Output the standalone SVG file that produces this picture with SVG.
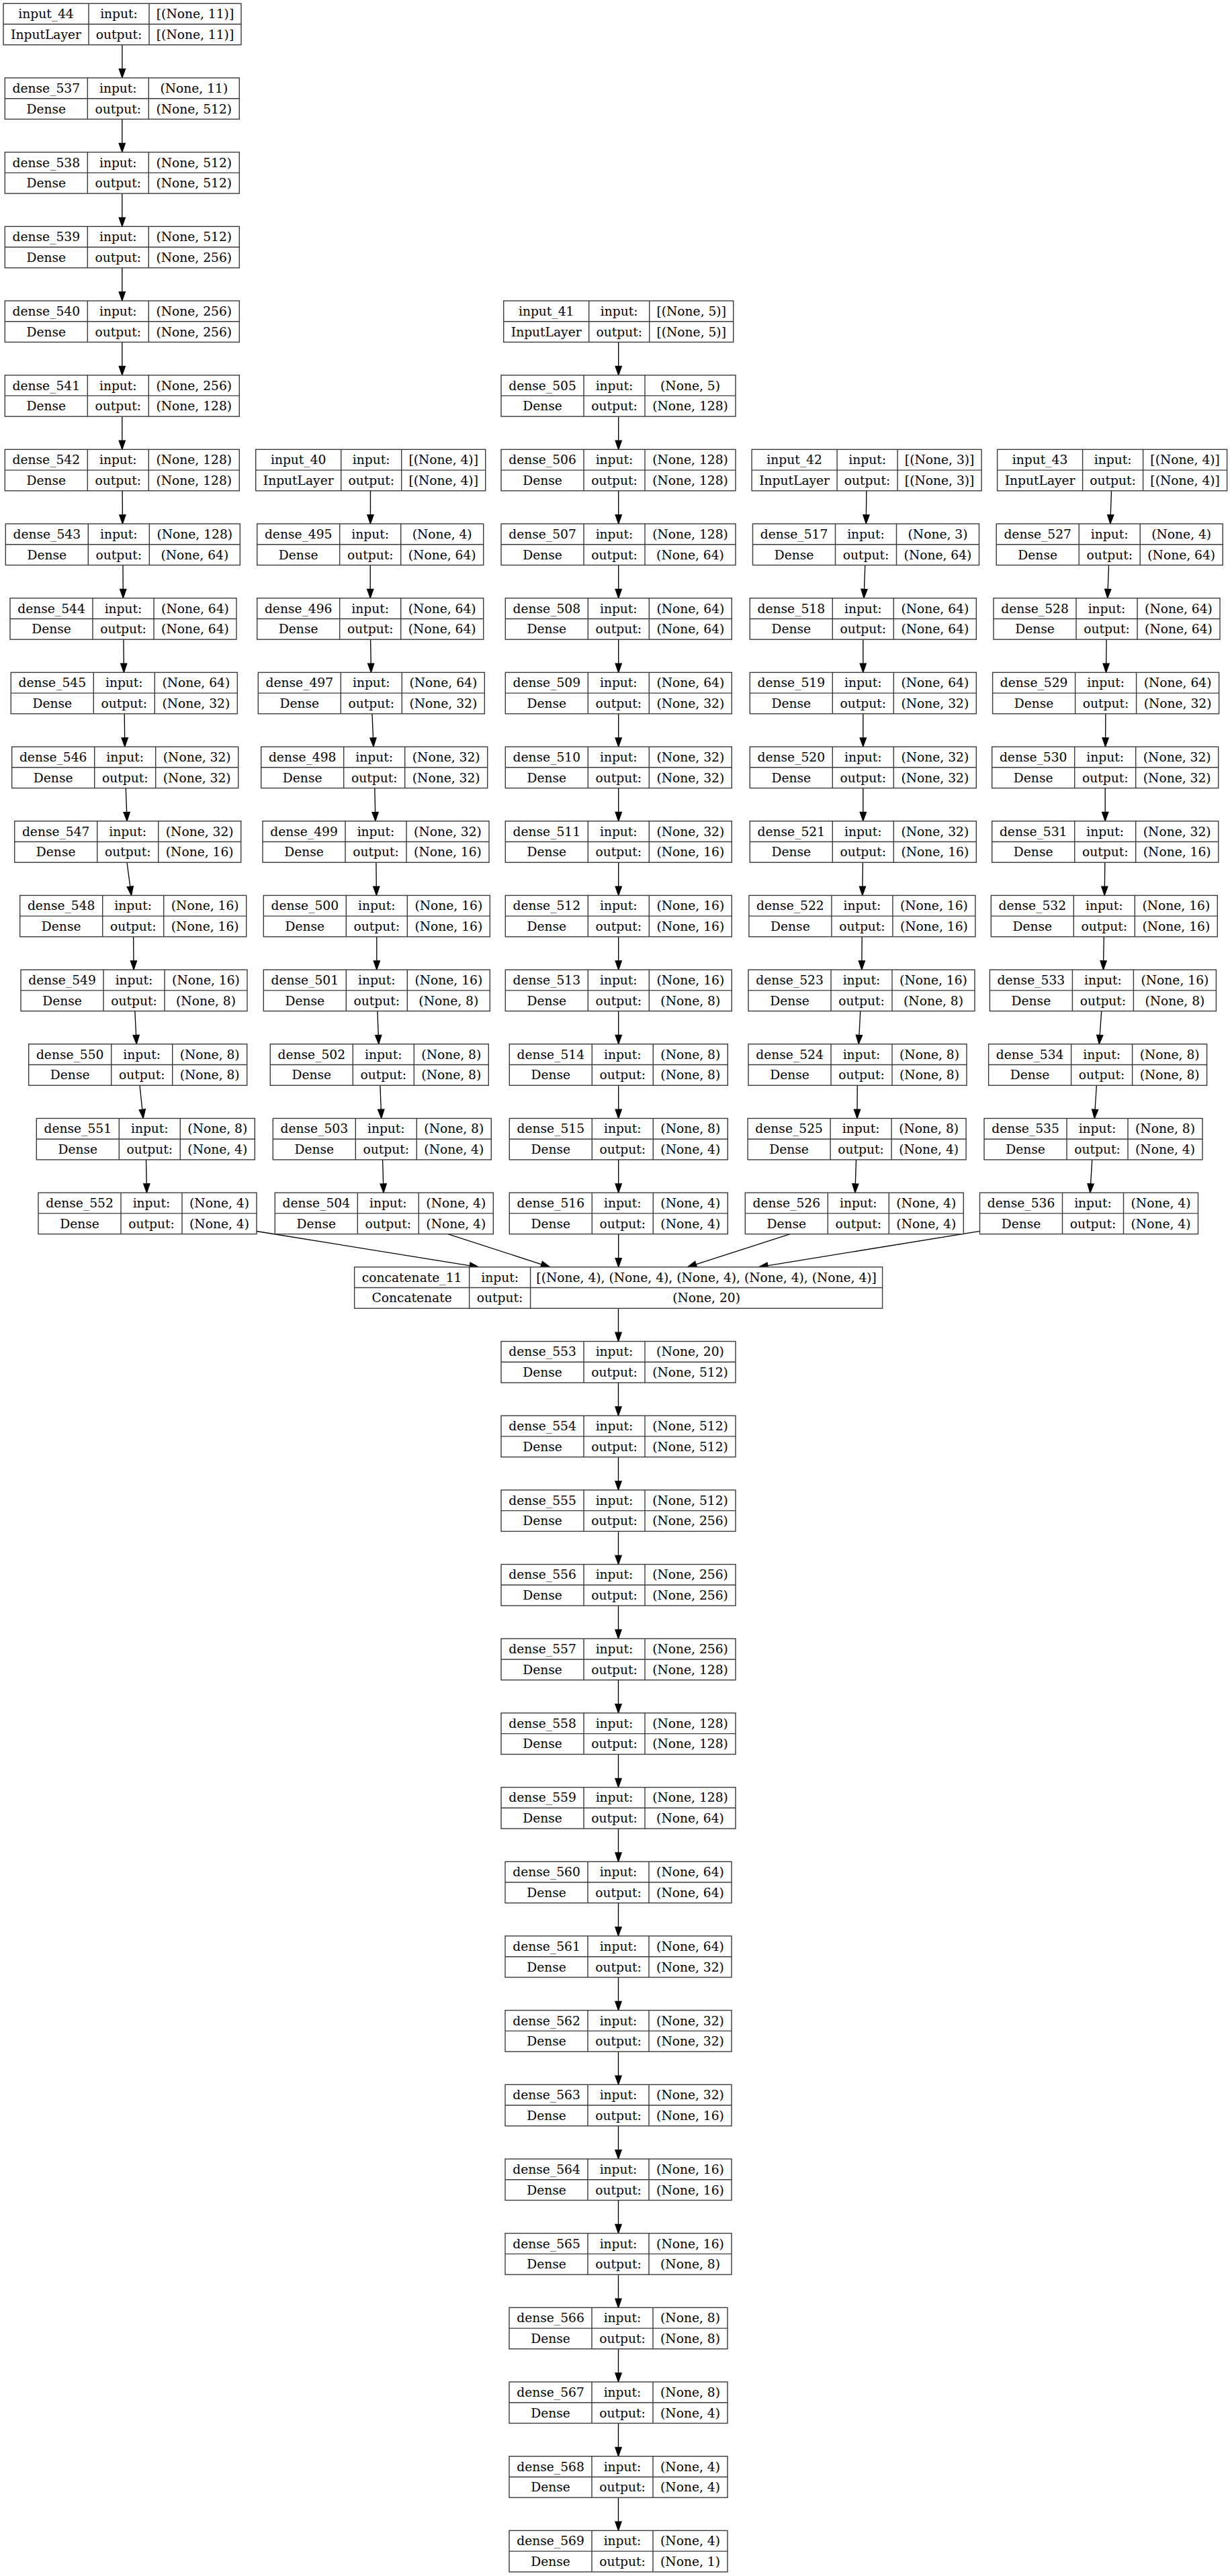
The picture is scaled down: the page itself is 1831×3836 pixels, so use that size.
<svg xmlns="http://www.w3.org/2000/svg" width="1831" height="3836" viewBox="0 0 1831 3836">
<defs>
<style>
.n rect{fill:#fff;stroke:#3a3a3a;stroke-width:1.4}
.n path{fill:none;stroke:#3a3a3a;stroke-width:1.4}
.n text{font-family:"DejaVu Serif","Liberation Serif",serif;font-size:18.67px;text-anchor:middle;fill:#000}
.e line{stroke:#000;stroke-width:1.33;fill:none}
</style>
<marker id="ah" markerWidth="16" markerHeight="12" refX="13.3" refY="4.67" orient="auto" markerUnits="userSpaceOnUse" overflow="visible">
<path d="M0,0 L13.3,4.67 L0,9.33 z" fill="#000" stroke="#000" stroke-width="1.2"/>
</marker>
</defs>
<rect width="1831" height="3836" fill="#fff"/>
<g id="connectors" class="e" marker-end="url(#ah)">
<line x1="181.9" y1="66.75" x2="181.9" y2="115.93" marker-end="url(#ah)"/>
<line x1="181.8" y1="177.43" x2="181.8" y2="226.61" marker-end="url(#ah)"/>
<line x1="181.8" y1="288.11" x2="181.8" y2="337.29" marker-end="url(#ah)"/>
<line x1="181.8" y1="398.79" x2="181.8" y2="447.97" marker-end="url(#ah)"/>
<line x1="181.8" y1="509.47" x2="181.8" y2="558.65" marker-end="url(#ah)"/>
<line x1="181.8" y1="620.15" x2="181.8" y2="669.33" marker-end="url(#ah)"/>
<line x1="182.1" y1="730.83" x2="182.5" y2="780.01" marker-end="url(#ah)"/>
<line x1="183.0" y1="841.51" x2="183.3" y2="890.69" marker-end="url(#ah)"/>
<line x1="183.9" y1="952.19" x2="184.4" y2="1001.37" marker-end="url(#ah)"/>
<line x1="185.2" y1="1062.87" x2="185.8" y2="1112.05" marker-end="url(#ah)"/>
<line x1="187.3" y1="1173.55" x2="189.1" y2="1222.73" marker-end="url(#ah)"/>
<line x1="189.0" y1="1284.23" x2="195.5" y2="1333.41" marker-end="url(#ah)"/>
<line x1="198.6" y1="1394.91" x2="199.1" y2="1444.09" marker-end="url(#ah)"/>
<line x1="200.8" y1="1505.59" x2="203.3" y2="1554.77" marker-end="url(#ah)"/>
<line x1="208.0" y1="1616.27" x2="213.2" y2="1665.45" marker-end="url(#ah)"/>
<line x1="217.5" y1="1726.95" x2="218.5" y2="1776.13" marker-end="url(#ah)"/>
<line x1="551.5" y1="730.83" x2="551.4" y2="780.01" marker-end="url(#ah)"/>
<line x1="551.2" y1="841.51" x2="551.2" y2="890.69" marker-end="url(#ah)"/>
<line x1="551.6" y1="952.19" x2="552.4" y2="1001.37" marker-end="url(#ah)"/>
<line x1="554.0" y1="1062.87" x2="556.0" y2="1112.05" marker-end="url(#ah)"/>
<line x1="557.8" y1="1173.55" x2="558.9" y2="1222.73" marker-end="url(#ah)"/>
<line x1="559.9" y1="1284.23" x2="560.4" y2="1333.41" marker-end="url(#ah)"/>
<line x1="560.8" y1="1394.91" x2="560.8" y2="1444.09" marker-end="url(#ah)"/>
<line x1="561.9" y1="1505.59" x2="563.7" y2="1554.77" marker-end="url(#ah)"/>
<line x1="565.9" y1="1616.27" x2="567.7" y2="1665.45" marker-end="url(#ah)"/>
<line x1="569.6" y1="1726.95" x2="571.0" y2="1776.13" marker-end="url(#ah)"/>
<line x1="920.7" y1="509.47" x2="920.7" y2="558.65" marker-end="url(#ah)"/>
<line x1="920.7" y1="620.15" x2="920.7" y2="669.33" marker-end="url(#ah)"/>
<line x1="920.7" y1="730.83" x2="920.7" y2="780.01" marker-end="url(#ah)"/>
<line x1="920.7" y1="841.51" x2="920.7" y2="890.69" marker-end="url(#ah)"/>
<line x1="920.7" y1="952.19" x2="920.7" y2="1001.37" marker-end="url(#ah)"/>
<line x1="920.7" y1="1062.87" x2="920.7" y2="1112.05" marker-end="url(#ah)"/>
<line x1="920.7" y1="1173.55" x2="920.7" y2="1222.73" marker-end="url(#ah)"/>
<line x1="920.7" y1="1284.23" x2="920.7" y2="1333.41" marker-end="url(#ah)"/>
<line x1="920.7" y1="1394.91" x2="920.7" y2="1444.09" marker-end="url(#ah)"/>
<line x1="920.7" y1="1505.59" x2="920.7" y2="1554.77" marker-end="url(#ah)"/>
<line x1="920.7" y1="1616.27" x2="920.7" y2="1665.45" marker-end="url(#ah)"/>
<line x1="920.7" y1="1726.95" x2="920.7" y2="1776.13" marker-end="url(#ah)"/>
<line x1="1289.8" y1="730.83" x2="1289.3" y2="780.01" marker-end="url(#ah)"/>
<line x1="1287.8" y1="841.51" x2="1286.0" y2="890.69" marker-end="url(#ah)"/>
<line x1="1284.8" y1="952.19" x2="1284.8" y2="1001.37" marker-end="url(#ah)"/>
<line x1="1284.8" y1="1062.87" x2="1284.8" y2="1112.05" marker-end="url(#ah)"/>
<line x1="1284.8" y1="1173.55" x2="1284.8" y2="1222.73" marker-end="url(#ah)"/>
<line x1="1284.4" y1="1284.23" x2="1283.8" y2="1333.41" marker-end="url(#ah)"/>
<line x1="1283.2" y1="1394.91" x2="1282.8" y2="1444.09" marker-end="url(#ah)"/>
<line x1="1280.8" y1="1505.59" x2="1278.2" y2="1554.77" marker-end="url(#ah)"/>
<line x1="1276.3" y1="1616.27" x2="1275.9" y2="1665.45" marker-end="url(#ah)"/>
<line x1="1274.5" y1="1726.95" x2="1272.9" y2="1776.13" marker-end="url(#ah)"/>
<line x1="1654.5" y1="730.83" x2="1652.8" y2="780.01" marker-end="url(#ah)"/>
<line x1="1650.5" y1="841.51" x2="1648.7" y2="890.69" marker-end="url(#ah)"/>
<line x1="1647.1" y1="952.19" x2="1646.5" y2="1001.37" marker-end="url(#ah)"/>
<line x1="1645.9" y1="1062.87" x2="1645.5" y2="1112.05" marker-end="url(#ah)"/>
<line x1="1645.2" y1="1173.55" x2="1645.2" y2="1222.73" marker-end="url(#ah)"/>
<line x1="1644.8" y1="1284.23" x2="1644.2" y2="1333.41" marker-end="url(#ah)"/>
<line x1="1643.3" y1="1394.91" x2="1642.4" y2="1444.09" marker-end="url(#ah)"/>
<line x1="1639.7" y1="1505.59" x2="1636.3" y2="1554.77" marker-end="url(#ah)"/>
<line x1="1632.3" y1="1616.27" x2="1629.3" y2="1665.45" marker-end="url(#ah)"/>
<line x1="1625.7" y1="1726.95" x2="1622.8" y2="1776.13" marker-end="url(#ah)"/>
<line x1="382" y1="1833.5" x2="712.4" y2="1886.81" marker-end="url(#ah)"/>
<line x1="666.7" y1="1837.63" x2="818.6" y2="1886.81" marker-end="url(#ah)"/>
<line x1="920.7" y1="1837.63" x2="920.7" y2="1886.81" marker-end="url(#ah)"/>
<line x1="1176.3" y1="1837.63" x2="1023.5" y2="1886.81" marker-end="url(#ah)"/>
<line x1="1458.5" y1="1833.4" x2="1129.7" y2="1886.81" marker-end="url(#ah)"/>
<line x1="920.5" y1="1948.31" x2="920.5" y2="1997.49" marker-end="url(#ah)"/>
<line x1="920.5" y1="2058.99" x2="920.5" y2="2108.17" marker-end="url(#ah)"/>
<line x1="920.5" y1="2169.67" x2="920.5" y2="2218.85" marker-end="url(#ah)"/>
<line x1="920.5" y1="2280.35" x2="920.5" y2="2329.53" marker-end="url(#ah)"/>
<line x1="920.5" y1="2391.03" x2="920.5" y2="2440.21" marker-end="url(#ah)"/>
<line x1="920.5" y1="2501.71" x2="920.5" y2="2550.89" marker-end="url(#ah)"/>
<line x1="920.5" y1="2612.39" x2="920.5" y2="2661.57" marker-end="url(#ah)"/>
<line x1="920.5" y1="2723.07" x2="920.5" y2="2772.25" marker-end="url(#ah)"/>
<line x1="920.5" y1="2833.75" x2="920.5" y2="2882.93" marker-end="url(#ah)"/>
<line x1="920.5" y1="2944.43" x2="920.5" y2="2993.61" marker-end="url(#ah)"/>
<line x1="920.5" y1="3055.11" x2="920.5" y2="3104.29" marker-end="url(#ah)"/>
<line x1="920.5" y1="3165.79" x2="920.5" y2="3214.97" marker-end="url(#ah)"/>
<line x1="920.5" y1="3276.47" x2="920.5" y2="3325.65" marker-end="url(#ah)"/>
<line x1="920.5" y1="3387.15" x2="920.5" y2="3436.33" marker-end="url(#ah)"/>
<line x1="920.5" y1="3497.83" x2="920.5" y2="3547.01" marker-end="url(#ah)"/>
<line x1="920.5" y1="3608.51" x2="920.5" y2="3657.69" marker-end="url(#ah)"/>
<line x1="920.5" y1="3719.19" x2="920.5" y2="3768.37" marker-end="url(#ah)"/>
</g>
<g id="nodes">
<g id="input_44" class="n" transform="translate(5,5.25)"><rect width="354" height="61.5"/><path d="M127,0V61.5M217,0V61.5M0,30.75H354"/><text x="63.5" y="21.9">input_44</text><text x="172" y="21.9">input:</text><text x="285.5" y="21.9">[(None, 11)]</text><text x="63.5" y="52.6">InputLayer</text><text x="172" y="52.6">output:</text><text x="285.5" y="52.6">[(None, 11)]</text></g>
<g id="dense_537" class="n" transform="translate(7.3,115.93)"><rect width="349" height="61.5"/><path d="M123,0V61.5M214,0V61.5M0,30.75H349"/><text x="61.5" y="21.9">dense_537</text><text x="168.5" y="21.9">input:</text><text x="281.5" y="21.9">(None, 11)</text><text x="61.5" y="52.6">Dense</text><text x="168.5" y="52.6">output:</text><text x="281.5" y="52.6">(None, 512)</text></g>
<g id="dense_538" class="n" transform="translate(7.3,226.61)"><rect width="349" height="61.5"/><path d="M123,0V61.5M214,0V61.5M0,30.75H349"/><text x="61.5" y="21.9">dense_538</text><text x="168.5" y="21.9">input:</text><text x="281.5" y="21.9">(None, 512)</text><text x="61.5" y="52.6">Dense</text><text x="168.5" y="52.6">output:</text><text x="281.5" y="52.6">(None, 512)</text></g>
<g id="dense_539" class="n" transform="translate(7.3,337.29)"><rect width="349" height="61.5"/><path d="M123,0V61.5M214,0V61.5M0,30.75H349"/><text x="61.5" y="21.9">dense_539</text><text x="168.5" y="21.9">input:</text><text x="281.5" y="21.9">(None, 512)</text><text x="61.5" y="52.6">Dense</text><text x="168.5" y="52.6">output:</text><text x="281.5" y="52.6">(None, 256)</text></g>
<g id="dense_540" class="n" transform="translate(7.3,447.97)"><rect width="349" height="61.5"/><path d="M123,0V61.5M214,0V61.5M0,30.75H349"/><text x="61.5" y="21.9">dense_540</text><text x="168.5" y="21.9">input:</text><text x="281.5" y="21.9">(None, 256)</text><text x="61.5" y="52.6">Dense</text><text x="168.5" y="52.6">output:</text><text x="281.5" y="52.6">(None, 256)</text></g>
<g id="dense_541" class="n" transform="translate(7.3,558.65)"><rect width="349" height="61.5"/><path d="M123,0V61.5M214,0V61.5M0,30.75H349"/><text x="61.5" y="21.9">dense_541</text><text x="168.5" y="21.9">input:</text><text x="281.5" y="21.9">(None, 256)</text><text x="61.5" y="52.6">Dense</text><text x="168.5" y="52.6">output:</text><text x="281.5" y="52.6">(None, 128)</text></g>
<g id="dense_542" class="n" transform="translate(7.3,669.33)"><rect width="349" height="61.5"/><path d="M123,0V61.5M214,0V61.5M0,30.75H349"/><text x="61.5" y="21.9">dense_542</text><text x="168.5" y="21.9">input:</text><text x="281.5" y="21.9">(None, 128)</text><text x="61.5" y="52.6">Dense</text><text x="168.5" y="52.6">output:</text><text x="281.5" y="52.6">(None, 128)</text></g>
<g id="dense_543" class="n" transform="translate(8.3,780.01)"><rect width="349" height="61.5"/><path d="M123,0V61.5M214,0V61.5M0,30.75H349"/><text x="61.5" y="21.9">dense_543</text><text x="168.5" y="21.9">input:</text><text x="281.5" y="21.9">(None, 128)</text><text x="61.5" y="52.6">Dense</text><text x="168.5" y="52.6">output:</text><text x="281.5" y="52.6">(None, 64)</text></g>
<g id="dense_544" class="n" transform="translate(15,890.69)"><rect width="337" height="61.5"/><path d="M123,0V61.5M214,0V61.5M0,30.75H337"/><text x="61.5" y="21.9">dense_544</text><text x="168.5" y="21.9">input:</text><text x="275.5" y="21.9">(None, 64)</text><text x="61.5" y="52.6">Dense</text><text x="168.5" y="52.6">output:</text><text x="275.5" y="52.6">(None, 64)</text></g>
<g id="dense_545" class="n" transform="translate(16.3,1001.37)"><rect width="337" height="61.5"/><path d="M123,0V61.5M214,0V61.5M0,30.75H337"/><text x="61.5" y="21.9">dense_545</text><text x="168.5" y="21.9">input:</text><text x="275.5" y="21.9">(None, 64)</text><text x="61.5" y="52.6">Dense</text><text x="168.5" y="52.6">output:</text><text x="275.5" y="52.6">(None, 32)</text></g>
<g id="dense_546" class="n" transform="translate(17.7,1112.05)"><rect width="337" height="61.5"/><path d="M123,0V61.5M214,0V61.5M0,30.75H337"/><text x="61.5" y="21.9">dense_546</text><text x="168.5" y="21.9">input:</text><text x="275.5" y="21.9">(None, 32)</text><text x="61.5" y="52.6">Dense</text><text x="168.5" y="52.6">output:</text><text x="275.5" y="52.6">(None, 32)</text></g>
<g id="dense_547" class="n" transform="translate(21.7,1222.73)"><rect width="337" height="61.5"/><path d="M123,0V61.5M214,0V61.5M0,30.75H337"/><text x="61.5" y="21.9">dense_547</text><text x="168.5" y="21.9">input:</text><text x="275.5" y="21.9">(None, 32)</text><text x="61.5" y="52.6">Dense</text><text x="168.5" y="52.6">output:</text><text x="275.5" y="52.6">(None, 16)</text></g>
<g id="dense_548" class="n" transform="translate(29.7,1333.41)"><rect width="337" height="61.5"/><path d="M123,0V61.5M214,0V61.5M0,30.75H337"/><text x="61.5" y="21.9">dense_548</text><text x="168.5" y="21.9">input:</text><text x="275.5" y="21.9">(None, 16)</text><text x="61.5" y="52.6">Dense</text><text x="168.5" y="52.6">output:</text><text x="275.5" y="52.6">(None, 16)</text></g>
<g id="dense_549" class="n" transform="translate(31,1444.09)"><rect width="337" height="61.5"/><path d="M123,0V61.5M214,0V61.5M0,30.75H337"/><text x="61.5" y="21.9">dense_549</text><text x="168.5" y="21.9">input:</text><text x="275.5" y="21.9">(None, 16)</text><text x="61.5" y="52.6">Dense</text><text x="168.5" y="52.6">output:</text><text x="275.5" y="52.6">(None, 8)</text></g>
<g id="dense_550" class="n" transform="translate(42.7,1554.77)"><rect width="325" height="61.5"/><path d="M123,0V61.5M214,0V61.5M0,30.75H325"/><text x="61.5" y="21.9">dense_550</text><text x="168.5" y="21.9">input:</text><text x="269.5" y="21.9">(None, 8)</text><text x="61.5" y="52.6">Dense</text><text x="168.5" y="52.6">output:</text><text x="269.5" y="52.6">(None, 8)</text></g>
<g id="dense_551" class="n" transform="translate(54.3,1665.45)"><rect width="325" height="61.5"/><path d="M123,0V61.5M214,0V61.5M0,30.75H325"/><text x="61.5" y="21.9">dense_551</text><text x="168.5" y="21.9">input:</text><text x="269.5" y="21.9">(None, 8)</text><text x="61.5" y="52.6">Dense</text><text x="168.5" y="52.6">output:</text><text x="269.5" y="52.6">(None, 4)</text></g>
<g id="dense_552" class="n" transform="translate(57,1776.13)"><rect width="325" height="61.5"/><path d="M123,0V61.5M214,0V61.5M0,30.75H325"/><text x="61.5" y="21.9">dense_552</text><text x="168.5" y="21.9">input:</text><text x="269.5" y="21.9">(None, 4)</text><text x="61.5" y="52.6">Dense</text><text x="168.5" y="52.6">output:</text><text x="269.5" y="52.6">(None, 4)</text></g>

<g id="input_40" class="n" transform="translate(380.7,669.33)"><rect width="342" height="61.5"/><path d="M127,0V61.5M217,0V61.5M0,30.75H342"/><text x="63.5" y="21.9">input_40</text><text x="172" y="21.9">input:</text><text x="279.5" y="21.9">[(None, 4)]</text><text x="63.5" y="52.6">InputLayer</text><text x="172" y="52.6">output:</text><text x="279.5" y="52.6">[(None, 4)]</text></g>
<g id="dense_495" class="n" transform="translate(382.7,780.01)"><rect width="337" height="61.5"/><path d="M123,0V61.5M214,0V61.5M0,30.75H337"/><text x="61.5" y="21.9">dense_495</text><text x="168.5" y="21.9">input:</text><text x="275.5" y="21.9">(None, 4)</text><text x="61.5" y="52.6">Dense</text><text x="168.5" y="52.6">output:</text><text x="275.5" y="52.6">(None, 64)</text></g>
<g id="dense_496" class="n" transform="translate(382.7,890.69)"><rect width="337" height="61.5"/><path d="M123,0V61.5M214,0V61.5M0,30.75H337"/><text x="61.5" y="21.9">dense_496</text><text x="168.5" y="21.9">input:</text><text x="275.5" y="21.9">(None, 64)</text><text x="61.5" y="52.6">Dense</text><text x="168.5" y="52.6">output:</text><text x="275.5" y="52.6">(None, 64)</text></g>
<g id="dense_497" class="n" transform="translate(384.3,1001.37)"><rect width="337" height="61.5"/><path d="M123,0V61.5M214,0V61.5M0,30.75H337"/><text x="61.5" y="21.9">dense_497</text><text x="168.5" y="21.9">input:</text><text x="275.5" y="21.9">(None, 64)</text><text x="61.5" y="52.6">Dense</text><text x="168.5" y="52.6">output:</text><text x="275.5" y="52.6">(None, 32)</text></g>
<g id="dense_498" class="n" transform="translate(388.7,1112.05)"><rect width="337" height="61.5"/><path d="M123,0V61.5M214,0V61.5M0,30.75H337"/><text x="61.5" y="21.9">dense_498</text><text x="168.5" y="21.9">input:</text><text x="275.5" y="21.9">(None, 32)</text><text x="61.5" y="52.6">Dense</text><text x="168.5" y="52.6">output:</text><text x="275.5" y="52.6">(None, 32)</text></g>
<g id="dense_499" class="n" transform="translate(391,1222.73)"><rect width="337" height="61.5"/><path d="M123,0V61.5M214,0V61.5M0,30.75H337"/><text x="61.5" y="21.9">dense_499</text><text x="168.5" y="21.9">input:</text><text x="275.5" y="21.9">(None, 32)</text><text x="61.5" y="52.6">Dense</text><text x="168.5" y="52.6">output:</text><text x="275.5" y="52.6">(None, 16)</text></g>
<g id="dense_500" class="n" transform="translate(392.3,1333.41)"><rect width="337" height="61.5"/><path d="M123,0V61.5M214,0V61.5M0,30.75H337"/><text x="61.5" y="21.9">dense_500</text><text x="168.5" y="21.9">input:</text><text x="275.5" y="21.9">(None, 16)</text><text x="61.5" y="52.6">Dense</text><text x="168.5" y="52.6">output:</text><text x="275.5" y="52.6">(None, 16)</text></g>
<g id="dense_501" class="n" transform="translate(392.3,1444.09)"><rect width="337" height="61.5"/><path d="M123,0V61.5M214,0V61.5M0,30.75H337"/><text x="61.5" y="21.9">dense_501</text><text x="168.5" y="21.9">input:</text><text x="275.5" y="21.9">(None, 16)</text><text x="61.5" y="52.6">Dense</text><text x="168.5" y="52.6">output:</text><text x="275.5" y="52.6">(None, 8)</text></g>
<g id="dense_502" class="n" transform="translate(402.3,1554.77)"><rect width="325" height="61.5"/><path d="M123,0V61.5M214,0V61.5M0,30.75H325"/><text x="61.5" y="21.9">dense_502</text><text x="168.5" y="21.9">input:</text><text x="269.5" y="21.9">(None, 8)</text><text x="61.5" y="52.6">Dense</text><text x="168.5" y="52.6">output:</text><text x="269.5" y="52.6">(None, 8)</text></g>
<g id="dense_503" class="n" transform="translate(406.3,1665.45)"><rect width="325" height="61.5"/><path d="M123,0V61.5M214,0V61.5M0,30.75H325"/><text x="61.5" y="21.9">dense_503</text><text x="168.5" y="21.9">input:</text><text x="269.5" y="21.9">(None, 8)</text><text x="61.5" y="52.6">Dense</text><text x="168.5" y="52.6">output:</text><text x="269.5" y="52.6">(None, 4)</text></g>
<g id="dense_504" class="n" transform="translate(409.3,1776.13)"><rect width="325" height="61.5"/><path d="M123,0V61.5M214,0V61.5M0,30.75H325"/><text x="61.5" y="21.9">dense_504</text><text x="168.5" y="21.9">input:</text><text x="269.5" y="21.9">(None, 4)</text><text x="61.5" y="52.6">Dense</text><text x="168.5" y="52.6">output:</text><text x="269.5" y="52.6">(None, 4)</text></g>

<g id="input_41" class="n" transform="translate(749.7,447.97)"><rect width="342" height="61.5"/><path d="M127,0V61.5M217,0V61.5M0,30.75H342"/><text x="63.5" y="21.9">input_41</text><text x="172" y="21.9">input:</text><text x="279.5" y="21.9">[(None, 5)]</text><text x="63.5" y="52.6">InputLayer</text><text x="172" y="52.6">output:</text><text x="279.5" y="52.6">[(None, 5)]</text></g>
<g id="dense_505" class="n" transform="translate(746,558.65)"><rect width="349" height="61.5"/><path d="M123,0V61.5M214,0V61.5M0,30.75H349"/><text x="61.5" y="21.9">dense_505</text><text x="168.5" y="21.9">input:</text><text x="281.5" y="21.9">(None, 5)</text><text x="61.5" y="52.6">Dense</text><text x="168.5" y="52.6">output:</text><text x="281.5" y="52.6">(None, 128)</text></g>
<g id="dense_506" class="n" transform="translate(746,669.33)"><rect width="349" height="61.5"/><path d="M123,0V61.5M214,0V61.5M0,30.75H349"/><text x="61.5" y="21.9">dense_506</text><text x="168.5" y="21.9">input:</text><text x="281.5" y="21.9">(None, 128)</text><text x="61.5" y="52.6">Dense</text><text x="168.5" y="52.6">output:</text><text x="281.5" y="52.6">(None, 128)</text></g>
<g id="dense_507" class="n" transform="translate(746,780.01)"><rect width="349" height="61.5"/><path d="M123,0V61.5M214,0V61.5M0,30.75H349"/><text x="61.5" y="21.9">dense_507</text><text x="168.5" y="21.9">input:</text><text x="281.5" y="21.9">(None, 128)</text><text x="61.5" y="52.6">Dense</text><text x="168.5" y="52.6">output:</text><text x="281.5" y="52.6">(None, 64)</text></g>
<g id="dense_508" class="n" transform="translate(752.3,890.69)"><rect width="337" height="61.5"/><path d="M123,0V61.5M214,0V61.5M0,30.75H337"/><text x="61.5" y="21.9">dense_508</text><text x="168.5" y="21.9">input:</text><text x="275.5" y="21.9">(None, 64)</text><text x="61.5" y="52.6">Dense</text><text x="168.5" y="52.6">output:</text><text x="275.5" y="52.6">(None, 64)</text></g>
<g id="dense_509" class="n" transform="translate(752.3,1001.37)"><rect width="337" height="61.5"/><path d="M123,0V61.5M214,0V61.5M0,30.75H337"/><text x="61.5" y="21.9">dense_509</text><text x="168.5" y="21.9">input:</text><text x="275.5" y="21.9">(None, 64)</text><text x="61.5" y="52.6">Dense</text><text x="168.5" y="52.6">output:</text><text x="275.5" y="52.6">(None, 32)</text></g>
<g id="dense_510" class="n" transform="translate(752.3,1112.05)"><rect width="337" height="61.5"/><path d="M123,0V61.5M214,0V61.5M0,30.75H337"/><text x="61.5" y="21.9">dense_510</text><text x="168.5" y="21.9">input:</text><text x="275.5" y="21.9">(None, 32)</text><text x="61.5" y="52.6">Dense</text><text x="168.5" y="52.6">output:</text><text x="275.5" y="52.6">(None, 32)</text></g>
<g id="dense_511" class="n" transform="translate(752.3,1222.73)"><rect width="337" height="61.5"/><path d="M123,0V61.5M214,0V61.5M0,30.75H337"/><text x="61.5" y="21.9">dense_511</text><text x="168.5" y="21.9">input:</text><text x="275.5" y="21.9">(None, 32)</text><text x="61.5" y="52.6">Dense</text><text x="168.5" y="52.6">output:</text><text x="275.5" y="52.6">(None, 16)</text></g>
<g id="dense_512" class="n" transform="translate(752.3,1333.41)"><rect width="337" height="61.5"/><path d="M123,0V61.5M214,0V61.5M0,30.75H337"/><text x="61.5" y="21.9">dense_512</text><text x="168.5" y="21.9">input:</text><text x="275.5" y="21.9">(None, 16)</text><text x="61.5" y="52.6">Dense</text><text x="168.5" y="52.6">output:</text><text x="275.5" y="52.6">(None, 16)</text></g>
<g id="dense_513" class="n" transform="translate(752.3,1444.09)"><rect width="337" height="61.5"/><path d="M123,0V61.5M214,0V61.5M0,30.75H337"/><text x="61.5" y="21.9">dense_513</text><text x="168.5" y="21.9">input:</text><text x="275.5" y="21.9">(None, 16)</text><text x="61.5" y="52.6">Dense</text><text x="168.5" y="52.6">output:</text><text x="275.5" y="52.6">(None, 8)</text></g>
<g id="dense_514" class="n" transform="translate(758.3,1554.77)"><rect width="325" height="61.5"/><path d="M123,0V61.5M214,0V61.5M0,30.75H325"/><text x="61.5" y="21.9">dense_514</text><text x="168.5" y="21.9">input:</text><text x="269.5" y="21.9">(None, 8)</text><text x="61.5" y="52.6">Dense</text><text x="168.5" y="52.6">output:</text><text x="269.5" y="52.6">(None, 8)</text></g>
<g id="dense_515" class="n" transform="translate(758.3,1665.45)"><rect width="325" height="61.5"/><path d="M123,0V61.5M214,0V61.5M0,30.75H325"/><text x="61.5" y="21.9">dense_515</text><text x="168.5" y="21.9">input:</text><text x="269.5" y="21.9">(None, 8)</text><text x="61.5" y="52.6">Dense</text><text x="168.5" y="52.6">output:</text><text x="269.5" y="52.6">(None, 4)</text></g>
<g id="dense_516" class="n" transform="translate(758.3,1776.13)"><rect width="325" height="61.5"/><path d="M123,0V61.5M214,0V61.5M0,30.75H325"/><text x="61.5" y="21.9">dense_516</text><text x="168.5" y="21.9">input:</text><text x="269.5" y="21.9">(None, 4)</text><text x="61.5" y="52.6">Dense</text><text x="168.5" y="52.6">output:</text><text x="269.5" y="52.6">(None, 4)</text></g>

<g id="input_42" class="n" transform="translate(1119.1,669.33)"><rect width="342" height="61.5"/><path d="M127,0V61.5M217,0V61.5M0,30.75H342"/><text x="63.5" y="21.9">input_42</text><text x="172" y="21.9">input:</text><text x="279.5" y="21.9">[(None, 3)]</text><text x="63.5" y="52.6">InputLayer</text><text x="172" y="52.6">output:</text><text x="279.5" y="52.6">[(None, 3)]</text></g>
<g id="dense_517" class="n" transform="translate(1120.5,780.01)"><rect width="337" height="61.5"/><path d="M123,0V61.5M214,0V61.5M0,30.75H337"/><text x="61.5" y="21.9">dense_517</text><text x="168.5" y="21.9">input:</text><text x="275.5" y="21.9">(None, 3)</text><text x="61.5" y="52.6">Dense</text><text x="168.5" y="52.6">output:</text><text x="275.5" y="52.6">(None, 64)</text></g>
<g id="dense_518" class="n" transform="translate(1116.3,890.69)"><rect width="337" height="61.5"/><path d="M123,0V61.5M214,0V61.5M0,30.75H337"/><text x="61.5" y="21.9">dense_518</text><text x="168.5" y="21.9">input:</text><text x="275.5" y="21.9">(None, 64)</text><text x="61.5" y="52.6">Dense</text><text x="168.5" y="52.6">output:</text><text x="275.5" y="52.6">(None, 64)</text></g>
<g id="dense_519" class="n" transform="translate(1116.3,1001.37)"><rect width="337" height="61.5"/><path d="M123,0V61.5M214,0V61.5M0,30.75H337"/><text x="61.5" y="21.9">dense_519</text><text x="168.5" y="21.9">input:</text><text x="275.5" y="21.9">(None, 64)</text><text x="61.5" y="52.6">Dense</text><text x="168.5" y="52.6">output:</text><text x="275.5" y="52.6">(None, 32)</text></g>
<g id="dense_520" class="n" transform="translate(1116.3,1112.05)"><rect width="337" height="61.5"/><path d="M123,0V61.5M214,0V61.5M0,30.75H337"/><text x="61.5" y="21.9">dense_520</text><text x="168.5" y="21.9">input:</text><text x="275.5" y="21.9">(None, 32)</text><text x="61.5" y="52.6">Dense</text><text x="168.5" y="52.6">output:</text><text x="275.5" y="52.6">(None, 32)</text></g>
<g id="dense_521" class="n" transform="translate(1116.3,1222.73)"><rect width="337" height="61.5"/><path d="M123,0V61.5M214,0V61.5M0,30.75H337"/><text x="61.5" y="21.9">dense_521</text><text x="168.5" y="21.9">input:</text><text x="275.5" y="21.9">(None, 32)</text><text x="61.5" y="52.6">Dense</text><text x="168.5" y="52.6">output:</text><text x="275.5" y="52.6">(None, 16)</text></g>
<g id="dense_522" class="n" transform="translate(1114.9,1333.41)"><rect width="337" height="61.5"/><path d="M123,0V61.5M214,0V61.5M0,30.75H337"/><text x="61.5" y="21.9">dense_522</text><text x="168.5" y="21.9">input:</text><text x="275.5" y="21.9">(None, 16)</text><text x="61.5" y="52.6">Dense</text><text x="168.5" y="52.6">output:</text><text x="275.5" y="52.6">(None, 16)</text></g>
<g id="dense_523" class="n" transform="translate(1114,1444.09)"><rect width="337" height="61.5"/><path d="M123,0V61.5M214,0V61.5M0,30.75H337"/><text x="61.5" y="21.9">dense_523</text><text x="168.5" y="21.9">input:</text><text x="275.5" y="21.9">(None, 16)</text><text x="61.5" y="52.6">Dense</text><text x="168.5" y="52.6">output:</text><text x="275.5" y="52.6">(None, 8)</text></g>
<g id="dense_524" class="n" transform="translate(1114,1554.77)"><rect width="325" height="61.5"/><path d="M123,0V61.5M214,0V61.5M0,30.75H325"/><text x="61.5" y="21.9">dense_524</text><text x="168.5" y="21.9">input:</text><text x="269.5" y="21.9">(None, 8)</text><text x="61.5" y="52.6">Dense</text><text x="168.5" y="52.6">output:</text><text x="269.5" y="52.6">(None, 8)</text></g>
<g id="dense_525" class="n" transform="translate(1113.1,1665.45)"><rect width="325" height="61.5"/><path d="M123,0V61.5M214,0V61.5M0,30.75H325"/><text x="61.5" y="21.9">dense_525</text><text x="168.5" y="21.9">input:</text><text x="269.5" y="21.9">(None, 8)</text><text x="61.5" y="52.6">Dense</text><text x="168.5" y="52.6">output:</text><text x="269.5" y="52.6">(None, 4)</text></g>
<g id="dense_526" class="n" transform="translate(1109.3,1776.13)"><rect width="325" height="61.5"/><path d="M123,0V61.5M214,0V61.5M0,30.75H325"/><text x="61.5" y="21.9">dense_526</text><text x="168.5" y="21.9">input:</text><text x="269.5" y="21.9">(None, 4)</text><text x="61.5" y="52.6">Dense</text><text x="168.5" y="52.6">output:</text><text x="269.5" y="52.6">(None, 4)</text></g>

<g id="input_43" class="n" transform="translate(1484.6,669.33)"><rect width="342" height="61.5"/><path d="M127,0V61.5M217,0V61.5M0,30.75H342"/><text x="63.5" y="21.9">input_43</text><text x="172" y="21.9">input:</text><text x="279.5" y="21.9">[(None, 4)]</text><text x="63.5" y="52.6">InputLayer</text><text x="172" y="52.6">output:</text><text x="279.5" y="52.6">[(None, 4)]</text></g>
<g id="dense_527" class="n" transform="translate(1483.2,780.01)"><rect width="337" height="61.5"/><path d="M123,0V61.5M214,0V61.5M0,30.75H337"/><text x="61.5" y="21.9">dense_527</text><text x="168.5" y="21.9">input:</text><text x="275.5" y="21.9">(None, 4)</text><text x="61.5" y="52.6">Dense</text><text x="168.5" y="52.6">output:</text><text x="275.5" y="52.6">(None, 64)</text></g>
<g id="dense_528" class="n" transform="translate(1479,890.69)"><rect width="337" height="61.5"/><path d="M123,0V61.5M214,0V61.5M0,30.75H337"/><text x="61.5" y="21.9">dense_528</text><text x="168.5" y="21.9">input:</text><text x="275.5" y="21.9">(None, 64)</text><text x="61.5" y="52.6">Dense</text><text x="168.5" y="52.6">output:</text><text x="275.5" y="52.6">(None, 64)</text></g>
<g id="dense_529" class="n" transform="translate(1477.6,1001.37)"><rect width="337" height="61.5"/><path d="M123,0V61.5M214,0V61.5M0,30.75H337"/><text x="61.5" y="21.9">dense_529</text><text x="168.5" y="21.9">input:</text><text x="275.5" y="21.9">(None, 64)</text><text x="61.5" y="52.6">Dense</text><text x="168.5" y="52.6">output:</text><text x="275.5" y="52.6">(None, 32)</text></g>
<g id="dense_530" class="n" transform="translate(1476.7,1112.05)"><rect width="337" height="61.5"/><path d="M123,0V61.5M214,0V61.5M0,30.75H337"/><text x="61.5" y="21.9">dense_530</text><text x="168.5" y="21.9">input:</text><text x="275.5" y="21.9">(None, 32)</text><text x="61.5" y="52.6">Dense</text><text x="168.5" y="52.6">output:</text><text x="275.5" y="52.6">(None, 32)</text></g>
<g id="dense_531" class="n" transform="translate(1476.7,1222.73)"><rect width="337" height="61.5"/><path d="M123,0V61.5M214,0V61.5M0,30.75H337"/><text x="61.5" y="21.9">dense_531</text><text x="168.5" y="21.9">input:</text><text x="275.5" y="21.9">(None, 32)</text><text x="61.5" y="52.6">Dense</text><text x="168.5" y="52.6">output:</text><text x="275.5" y="52.6">(None, 16)</text></g>
<g id="dense_532" class="n" transform="translate(1475.3,1333.41)"><rect width="337" height="61.5"/><path d="M123,0V61.5M214,0V61.5M0,30.75H337"/><text x="61.5" y="21.9">dense_532</text><text x="168.5" y="21.9">input:</text><text x="275.5" y="21.9">(None, 16)</text><text x="61.5" y="52.6">Dense</text><text x="168.5" y="52.6">output:</text><text x="275.5" y="52.6">(None, 16)</text></g>
<g id="dense_533" class="n" transform="translate(1473.4,1444.09)"><rect width="337" height="61.5"/><path d="M123,0V61.5M214,0V61.5M0,30.75H337"/><text x="61.5" y="21.9">dense_533</text><text x="168.5" y="21.9">input:</text><text x="275.5" y="21.9">(None, 16)</text><text x="61.5" y="52.6">Dense</text><text x="168.5" y="52.6">output:</text><text x="275.5" y="52.6">(None, 8)</text></g>
<g id="dense_534" class="n" transform="translate(1471.6,1554.77)"><rect width="325" height="61.5"/><path d="M123,0V61.5M214,0V61.5M0,30.75H325"/><text x="61.5" y="21.9">dense_534</text><text x="168.5" y="21.9">input:</text><text x="269.5" y="21.9">(None, 8)</text><text x="61.5" y="52.6">Dense</text><text x="168.5" y="52.6">output:</text><text x="269.5" y="52.6">(None, 8)</text></g>
<g id="dense_535" class="n" transform="translate(1465,1665.45)"><rect width="325" height="61.5"/><path d="M123,0V61.5M214,0V61.5M0,30.75H325"/><text x="61.5" y="21.9">dense_535</text><text x="168.5" y="21.9">input:</text><text x="269.5" y="21.9">(None, 8)</text><text x="61.5" y="52.6">Dense</text><text x="168.5" y="52.6">output:</text><text x="269.5" y="52.6">(None, 4)</text></g>
<g id="dense_536" class="n" transform="translate(1458.5,1776.13)"><rect width="325" height="61.5"/><path d="M123,0V61.5M214,0V61.5M0,30.75H325"/><text x="61.5" y="21.9">dense_536</text><text x="168.5" y="21.9">input:</text><text x="269.5" y="21.9">(None, 4)</text><text x="61.5" y="52.6">Dense</text><text x="168.5" y="52.6">output:</text><text x="269.5" y="52.6">(None, 4)</text></g>

<g id="concatenate_11" class="n" transform="translate(527.6,1886.81)"><rect width="786" height="61.5"/><path d="M171,0V61.5M262,0V61.5M0,30.75H786"/><text x="85.5" y="21.9">concatenate_11</text><text x="216.5" y="21.9">input:</text><text x="524" y="21.9">[(None, 4), (None, 4), (None, 4), (None, 4), (None, 4)]</text><text x="85.5" y="52.6">Concatenate</text><text x="216.5" y="52.6">output:</text><text x="524" y="52.6">(None, 20)</text></g>

<g id="dense_553" class="n" transform="translate(746,1997.49)"><rect width="349" height="61.5"/><path d="M123,0V61.5M214,0V61.5M0,30.75H349"/><text x="61.5" y="21.9">dense_553</text><text x="168.5" y="21.9">input:</text><text x="281.5" y="21.9">(None, 20)</text><text x="61.5" y="52.6">Dense</text><text x="168.5" y="52.6">output:</text><text x="281.5" y="52.6">(None, 512)</text></g>
<g id="dense_554" class="n" transform="translate(746,2108.17)"><rect width="349" height="61.5"/><path d="M123,0V61.5M214,0V61.5M0,30.75H349"/><text x="61.5" y="21.9">dense_554</text><text x="168.5" y="21.9">input:</text><text x="281.5" y="21.9">(None, 512)</text><text x="61.5" y="52.6">Dense</text><text x="168.5" y="52.6">output:</text><text x="281.5" y="52.6">(None, 512)</text></g>
<g id="dense_555" class="n" transform="translate(746,2218.85)"><rect width="349" height="61.5"/><path d="M123,0V61.5M214,0V61.5M0,30.75H349"/><text x="61.5" y="21.9">dense_555</text><text x="168.5" y="21.9">input:</text><text x="281.5" y="21.9">(None, 512)</text><text x="61.5" y="52.6">Dense</text><text x="168.5" y="52.6">output:</text><text x="281.5" y="52.6">(None, 256)</text></g>
<g id="dense_556" class="n" transform="translate(746,2329.53)"><rect width="349" height="61.5"/><path d="M123,0V61.5M214,0V61.5M0,30.75H349"/><text x="61.5" y="21.9">dense_556</text><text x="168.5" y="21.9">input:</text><text x="281.5" y="21.9">(None, 256)</text><text x="61.5" y="52.6">Dense</text><text x="168.5" y="52.6">output:</text><text x="281.5" y="52.6">(None, 256)</text></g>
<g id="dense_557" class="n" transform="translate(746,2440.21)"><rect width="349" height="61.5"/><path d="M123,0V61.5M214,0V61.5M0,30.75H349"/><text x="61.5" y="21.9">dense_557</text><text x="168.5" y="21.9">input:</text><text x="281.5" y="21.9">(None, 256)</text><text x="61.5" y="52.6">Dense</text><text x="168.5" y="52.6">output:</text><text x="281.5" y="52.6">(None, 128)</text></g>
<g id="dense_558" class="n" transform="translate(746,2550.89)"><rect width="349" height="61.5"/><path d="M123,0V61.5M214,0V61.5M0,30.75H349"/><text x="61.5" y="21.9">dense_558</text><text x="168.5" y="21.9">input:</text><text x="281.5" y="21.9">(None, 128)</text><text x="61.5" y="52.6">Dense</text><text x="168.5" y="52.6">output:</text><text x="281.5" y="52.6">(None, 128)</text></g>
<g id="dense_559" class="n" transform="translate(746,2661.57)"><rect width="349" height="61.5"/><path d="M123,0V61.5M214,0V61.5M0,30.75H349"/><text x="61.5" y="21.9">dense_559</text><text x="168.5" y="21.9">input:</text><text x="281.5" y="21.9">(None, 128)</text><text x="61.5" y="52.6">Dense</text><text x="168.5" y="52.6">output:</text><text x="281.5" y="52.6">(None, 64)</text></g>
<g id="dense_560" class="n" transform="translate(752,2772.25)"><rect width="337" height="61.5"/><path d="M123,0V61.5M214,0V61.5M0,30.75H337"/><text x="61.5" y="21.9">dense_560</text><text x="168.5" y="21.9">input:</text><text x="275.5" y="21.9">(None, 64)</text><text x="61.5" y="52.6">Dense</text><text x="168.5" y="52.6">output:</text><text x="275.5" y="52.6">(None, 64)</text></g>
<g id="dense_561" class="n" transform="translate(752,2882.93)"><rect width="337" height="61.5"/><path d="M123,0V61.5M214,0V61.5M0,30.75H337"/><text x="61.5" y="21.9">dense_561</text><text x="168.5" y="21.9">input:</text><text x="275.5" y="21.9">(None, 64)</text><text x="61.5" y="52.6">Dense</text><text x="168.5" y="52.6">output:</text><text x="275.5" y="52.6">(None, 32)</text></g>
<g id="dense_562" class="n" transform="translate(752,2993.61)"><rect width="337" height="61.5"/><path d="M123,0V61.5M214,0V61.5M0,30.75H337"/><text x="61.5" y="21.9">dense_562</text><text x="168.5" y="21.9">input:</text><text x="275.5" y="21.9">(None, 32)</text><text x="61.5" y="52.6">Dense</text><text x="168.5" y="52.6">output:</text><text x="275.5" y="52.6">(None, 32)</text></g>
<g id="dense_563" class="n" transform="translate(752,3104.29)"><rect width="337" height="61.5"/><path d="M123,0V61.5M214,0V61.5M0,30.75H337"/><text x="61.5" y="21.9">dense_563</text><text x="168.5" y="21.9">input:</text><text x="275.5" y="21.9">(None, 32)</text><text x="61.5" y="52.6">Dense</text><text x="168.5" y="52.6">output:</text><text x="275.5" y="52.6">(None, 16)</text></g>
<g id="dense_564" class="n" transform="translate(752,3214.97)"><rect width="337" height="61.5"/><path d="M123,0V61.5M214,0V61.5M0,30.75H337"/><text x="61.5" y="21.9">dense_564</text><text x="168.5" y="21.9">input:</text><text x="275.5" y="21.9">(None, 16)</text><text x="61.5" y="52.6">Dense</text><text x="168.5" y="52.6">output:</text><text x="275.5" y="52.6">(None, 16)</text></g>
<g id="dense_565" class="n" transform="translate(752,3325.65)"><rect width="337" height="61.5"/><path d="M123,0V61.5M214,0V61.5M0,30.75H337"/><text x="61.5" y="21.9">dense_565</text><text x="168.5" y="21.9">input:</text><text x="275.5" y="21.9">(None, 16)</text><text x="61.5" y="52.6">Dense</text><text x="168.5" y="52.6">output:</text><text x="275.5" y="52.6">(None, 8)</text></g>
<g id="dense_566" class="n" transform="translate(758,3436.33)"><rect width="325" height="61.5"/><path d="M123,0V61.5M214,0V61.5M0,30.75H325"/><text x="61.5" y="21.9">dense_566</text><text x="168.5" y="21.9">input:</text><text x="269.5" y="21.9">(None, 8)</text><text x="61.5" y="52.6">Dense</text><text x="168.5" y="52.6">output:</text><text x="269.5" y="52.6">(None, 8)</text></g>
<g id="dense_567" class="n" transform="translate(758,3547.01)"><rect width="325" height="61.5"/><path d="M123,0V61.5M214,0V61.5M0,30.75H325"/><text x="61.5" y="21.9">dense_567</text><text x="168.5" y="21.9">input:</text><text x="269.5" y="21.9">(None, 8)</text><text x="61.5" y="52.6">Dense</text><text x="168.5" y="52.6">output:</text><text x="269.5" y="52.6">(None, 4)</text></g>
<g id="dense_568" class="n" transform="translate(758,3657.69)"><rect width="325" height="61.5"/><path d="M123,0V61.5M214,0V61.5M0,30.75H325"/><text x="61.5" y="21.9">dense_568</text><text x="168.5" y="21.9">input:</text><text x="269.5" y="21.9">(None, 4)</text><text x="61.5" y="52.6">Dense</text><text x="168.5" y="52.6">output:</text><text x="269.5" y="52.6">(None, 4)</text></g>
<g id="dense_569" class="n" transform="translate(758,3768.37)"><rect width="325" height="61.5"/><path d="M123,0V61.5M214,0V61.5M0,30.75H325"/><text x="61.5" y="21.9">dense_569</text><text x="168.5" y="21.9">input:</text><text x="269.5" y="21.9">(None, 4)</text><text x="61.5" y="52.6">Dense</text><text x="168.5" y="52.6">output:</text><text x="269.5" y="52.6">(None, 1)</text></g>
</g>
</svg>
